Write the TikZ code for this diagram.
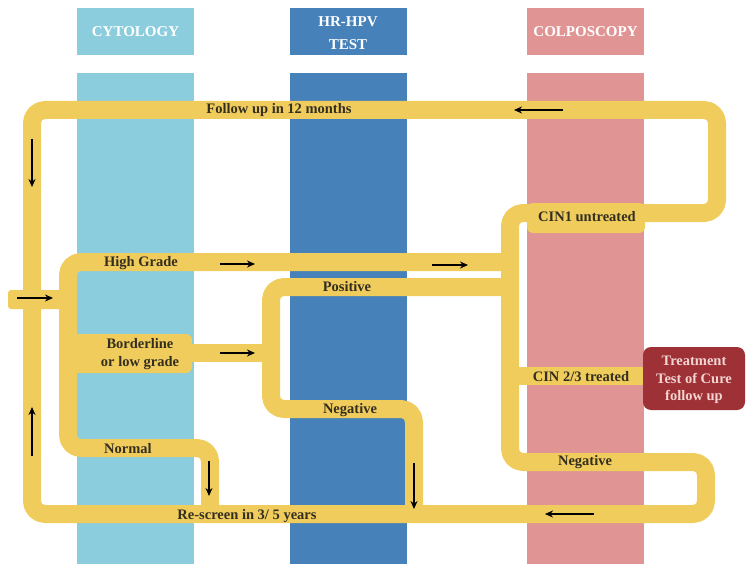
\documentclass[tikz,border=0pt]{standalone}
\usepackage{fontspec}
\setmainfont{Liberation Serif}
\usetikzlibrary{arrows.meta}

\definecolor{pipe}{RGB}{239,204,92}
\definecolor{cyto}{RGB}{139,205,221}
\definecolor{hpv}{RGB}{70,129,185}
\definecolor{colpo}{RGB}{224,148,148}
\definecolor{treat}{RGB}{157,49,53}
\definecolor{treattext}{RGB}{244,212,210}
\definecolor{labeltext}{RGB}{52,46,32}

\begin{document}
\begin{tikzpicture}[x=1pt,y=-1pt,
  pipeline/.style={draw=pipe, line width=18pt, rounded corners=13pt, line join=round},
  flow/.style={-{Stealth[length=8pt,width=7pt]}, line width=2.1pt, black},
  lbl/.style={font=\fontsize{14.5}{17}\selectfont\bfseries, text=labeltext, inner sep=0pt, align=center},
  head/.style={font=\fontsize{15}{23}\selectfont\bfseries, text=white, align=center, inner sep=0pt},
  column/.style={inner sep=0pt, minimum width=117pt},
  pill/.style={fill=pipe, rounded corners=6pt, inner sep=0pt},
]
\useasboundingbox (0,0) rectangle (746,564);

% column headers and column bands
\node[column, fill=cyto, minimum height=47pt] (hcyto) at (135.5,31.5) {};
\node[column, fill=hpv, minimum height=47pt] (hhpv) at (348,31.5) {};
\node[column, fill=colpo, minimum height=47pt] (hcolpo) at (585.5,31.5) {};
\node[head] (tcyto) at (135.5,32) {CYTOLOGY};
\node[head] (thpv) at (348,33.5) {HR-HPV\\TEST};
\node[head] (tcolpo) at (585.5,32) {COLPOSCOPY};
\node[column, fill=cyto, minimum height=491pt] (ccyto) at (135.5,318.5) {};
\node[column, fill=hpv, minimum height=491pt] (chpv) at (348,318.5) {};
\node[column, fill=colpo, minimum height=491pt] (ccolpo) at (585.5,318.5) {};

% main screening loop
\draw[pipeline] (300,110) -- (717,110) -- (717,213) -- (510,213) -- (510,462)
  -- (706,462) -- (706,514) -- (32,514) -- (32,110) -- cycle;

% entry stub
\fill[pipe, rounded corners=3pt] (8,290) rectangle (70,309);

% cytology branches
\draw[pipeline] (510,262) -- (68,262) -- (68,448) -- (210,448) -- (210,514);
\draw[pipeline] (150,353) -- (271,353);

% HPV test branches
\draw[pipeline] (510,287) -- (271,287) -- (271,409) -- (414,409) -- (414,514);

% colposcopy branch to treatment
\draw[pipeline] (510,376) -- (645,376);

% pills and treatment box
\node[pill, minimum width=120pt, minimum height=39pt] (border) at (132,353.5) {};
\node[pill, minimum width=118pt, minimum height=30pt] (cin1) at (586,218) {};
\node[fill=treat, rounded corners=8pt, minimum width=102pt, minimum height=63pt, inner sep=0pt] (treatbox) at (694,378.5) {};

% labels
\node[lbl] (lfollow) at (279,110) {Follow up in 12 months};
\node[lbl] (lhigh) at (141,263) {High Grade};
\node[lbl] (lpos) at (347,287) {Positive};
\node[lbl, font=\fontsize{14.5}{18}\selectfont\bfseries] (lborder) at (140,354) {Borderline\\or low grade};
\node[lbl] (lneg) at (350,410) {Negative};
\node[lbl] (lnormal) at (128,449) {Normal};
\node[lbl] (lrescreen) at (247,516) {Re-screen in 3/ 5 years};
\node[lbl] (lcin1) at (587,217) {CIN1 untreated};
\node[lbl] (lcin23) at (581,377) {CIN 2/3 treated};
\node[lbl] (lcneg) at (585,462) {Negative};
\node[font=\fontsize{14.5}{17.5}\selectfont\bfseries, text=treattext, align=center, inner sep=0pt] (ltreat) at (694,380) {Treatment\\Test of Cure\\follow up};

% flow arrows
\coordinate (a1s) at (17,298);  \coordinate (a1e) at (53,298);
\coordinate (a2s) at (32,139);  \coordinate (a2e) at (32,187);
\coordinate (a3s) at (32,456);  \coordinate (a3e) at (32,407);
\coordinate (a4s) at (220,264); \coordinate (a4e) at (255,264);
\coordinate (a5s) at (432,265); \coordinate (a5e) at (468,265);
\coordinate (a6s) at (220,353); \coordinate (a6e) at (255,353);
\coordinate (a7s) at (563,110); \coordinate (a7e) at (514,110);
\coordinate (a8s) at (209,461); \coordinate (a8e) at (209,496);
\coordinate (a9s) at (414,463); \coordinate (a9e) at (414,509);
\coordinate (a10s) at (594,514); \coordinate (a10e) at (545,514);
\foreach \i in {1,...,10} \draw[flow] (a\i s) -- (a\i e);
\end{tikzpicture}
\end{document}
